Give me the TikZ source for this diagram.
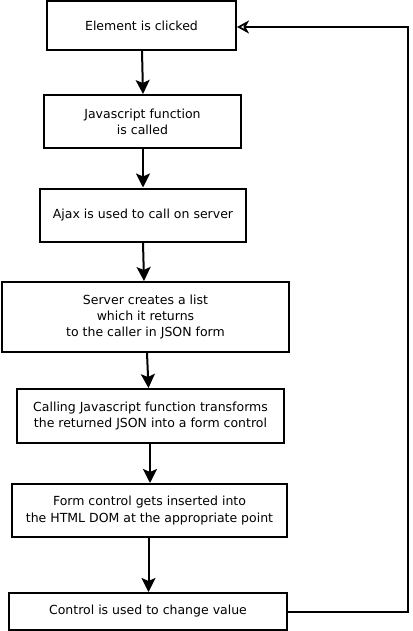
\documentclass[tikz,border=0pt]{standalone}
\usepackage{fontspec}
\setmainfont{DejaVu Sans}
\usetikzlibrary{arrows.meta}
\begin{document}
\begin{tikzpicture}[x=1pt,y=-1pt,
  box/.style={draw=black, line width=2pt, rectangle, align=center, inner sep=0pt,
    font=\fontsize{12.5}{16.3}\selectfont},
  flow/.style={line width=2pt, -{Stealth[length=14pt,width=14pt,inset=3pt]}},
  back/.style={line width=2pt, -{Stealth[open,length=12pt,width=13pt,inset=3.5pt,line width=1.8pt]}}]
\useasboundingbox (0,0) rectangle (412,631);
\node[box, minimum width=189pt, minimum height=49pt] (a) at (141.5,25.5) {Element is clicked};
\node[box, minimum width=197pt, minimum height=53pt] (b) at (142.5,121.5) {Javascript function\\ is called};
\node[box, minimum width=206pt, minimum height=53pt] (c) at (143,215) {Ajax is used to call on server};
\node[box, minimum width=287pt, minimum height=70pt] (d) at (145.5,317) {Server creates a list\\ which it returns\\ to the caller in JSON form};
\node[box, minimum width=267pt, minimum height=54pt] (e) at (150.5,416) {Calling Javascript function transforms\\ the returned JSON into a form control};
\node[box, minimum width=275pt, minimum height=53pt] (f) at (149.5,510.5) {Form control gets inserted into\\ the HTML DOM at the appropriate point};
\node[box, minimum width=278pt, minimum height=37pt] (g) at (148,611.5) {Control is used to change value};
\coordinate (corner) at (408,27);
\draw[flow] ([xshift=0.5pt]a.south) -- ([xshift=0.5pt]b.north);
\draw[flow] ([xshift=0.5pt]b.south) -- (c.north);
\draw[flow] (c.south) -- ([xshift=-1.5pt]d.north);
\draw[flow] ([xshift=1.5pt]d.south) -- ([xshift=-2pt]e.north);
\draw[flow] ([xshift=-0.5pt]e.south) -- ([xshift=0.5pt]f.north);
\draw[flow] ([xshift=-1pt]f.south) -- ([xshift=0.5pt]g.north);
\draw[back] (g.east) -| (corner) -- (a.east |- corner);
\end{tikzpicture}
\end{document}
